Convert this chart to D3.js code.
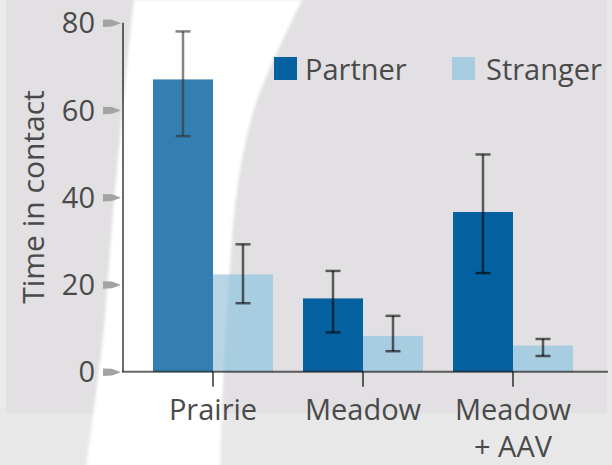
<!DOCTYPE html>
<html>
<head>
<meta charset="utf-8">
<script src="https://cdn.jsdelivr.net/npm/d3@7"></script>
<style>
  html, body { margin: 0; padding: 0; background: #e9e9e9; }
  svg { display: block; }
  text { font-family: "Open Sans", "Noto Sans", sans-serif; fill: #4a4a4a; }
</style>
</head>
<body>
<svg id="chart" width="612" height="465"></svg>
<script>
// Mean time in contact per group, with lower/upper error bar ends
const categories = ["Prairie", "Meadow", "Meadow + AAV"];
const seriesNames = ["Partner", "Stranger"];
const partnerValues = [67, 16.8, 36.6];
const partnerLow = [54, 9, 22.6];
const partnerHigh = [78, 23.1, 49.8];
const strangerValues = [22.3, 8.2, 6.0];
const strangerLow = [15.7, 4.7, 3.6];
const strangerHigh = [29.2, 12.8, 7.5];
const yTicks = [0, 20, 40, 60, 80];
const yTitle = "Time in contact";

const colors = { Partner: "#0561a0", Stranger: "#a8cce0" };
const fontSize = 29;

const rows = categories.map((c, i) => ({
  category: c,
  bars: [
    { series: "Partner", value: partnerValues[i], lo: partnerLow[i], hi: partnerHigh[i] },
    { series: "Stranger", value: strangerValues[i], lo: strangerLow[i], hi: strangerHigh[i] }
  ]
}));

const svg = d3.select("#chart");
const defs = svg.append("defs");
defs.append("filter").attr("id", "soft")
  .attr("x", "-10%").attr("y", "-10%").attr("width", "120%").attr("height", "120%")
  .append("feGaussianBlur").attr("stdDeviation", 1.6);

// Backdrop: grey panel with a white curved band
svg.append("rect").attr("x", 0).attr("y", 0).attr("width", 612).attr("height", 465).attr("fill", "#e8e8e8");
svg.append("rect").attr("x", 6).attr("y", 0).attr("width", 601).attr("height", 413).attr("fill", "#e2e0e2");
svg.append("rect").attr("x", 0).attr("y", 0).attr("width", 6).attr("height", 408).attr("fill", "#ebebeb");

const bandPath = "M134,0 L302,0 C283,38 268,70 256,102 C244,140 236,185 232,235 C228,300 222,380 220,470 L86,470 C92,420 100,370 105,320 C112,220 124,90 134,0 Z";
svg.append("path").attr("d", bandPath).attr("fill", "#ffffff").attr("filter", "url(#soft)");

const x = d3.scaleBand().domain(categories).range([123, 603]).paddingInner(0.2).paddingOuter(0.2);
const xs = d3.scaleBand().domain(seriesNames).range([0, x.bandwidth()]).padding(0);
const y = d3.scaleLinear().domain([0, 80]).range([371.7, 22.7]);

// Bars
const groups = svg.append("g").selectAll("g").data(rows).join("g")
  .attr("transform", d => `translate(${x(d.category)},0)`);
groups.selectAll("rect").data(d => d.bars).join("rect")
  .attr("x", d => xs(d.series))
  .attr("y", d => y(d.value))
  .attr("width", xs.bandwidth())
  .attr("height", d => y(0) - y(d.value))
  .attr("fill", d => colors[d.series]);

// The white band lightens whatever sits on it
svg.append("path").attr("d", bandPath).attr("fill", "#ffffff").attr("opacity", 0.19).attr("filter", "url(#soft)");

// Error bars
const cap = 7.5;
const eb = groups.selectAll("g.err").data(d => d.bars).join("g").attr("class", "err")
  .attr("transform", d => `translate(${xs(d.series) + xs.bandwidth() / 2},0)`)
  .attr("stroke", "#000").attr("stroke-opacity", 0.6).attr("stroke-width", 2.5).attr("fill", "none");
eb.append("line").attr("x1", 0).attr("x2", 0).attr("y1", d => y(d.lo)).attr("y2", d => y(d.hi));
eb.append("line").attr("x1", -cap).attr("x2", cap).attr("y1", d => y(d.hi)).attr("y2", d => y(d.hi));
eb.append("line").attr("x1", -cap).attr("x2", cap).attr("y1", d => y(d.lo)).attr("y2", d => y(d.lo));

// Y axis
const yAxis = d3.axisLeft(y).tickValues(yTicks).tickSize(0).tickPadding(28);
const ya = svg.append("g").attr("transform", "translate(123,0)").call(yAxis);
ya.select(".domain").remove();
ya.selectAll(".tick text").attr("font-size", fontSize).attr("dy", "0.35em").attr("fill", "#4a4a4a")
  .style("font-family", "'Open Sans', sans-serif");
ya.selectAll(".tick").append("path")
  .attr("d", "M-20,-3.8 L-11,-3.4 L-2,0 L-11,3.4 L-20,3.8 Z")
  .attr("fill", "#a3a3a3");
svg.append("line").attr("x1", 123).attr("x2", 123).attr("y1", y(80)).attr("y2", y(0))
  .attr("stroke", "#000").attr("stroke-opacity", 0.58).attr("stroke-width", 2);

// X axis
const xAxis = d3.axisBottom(x).tickSize(15).tickSizeOuter(0).tickFormat(() => "");
const xa = svg.append("g").attr("transform", `translate(0,${y(0)})`).call(xAxis);
xa.select(".domain").remove();
xa.selectAll(".tick line").attr("stroke", "#000").attr("stroke-opacity", 0.6).attr("stroke-width", 2);
svg.append("line").attr("x1", 122).attr("x2", 608).attr("y1", y(0)).attr("y2", y(0))
  .attr("stroke", "#000").attr("stroke-opacity", 0.6).attr("stroke-width", 2);
xa.selectAll(".tick").each(function (d) {
  const lines = d.split(" + ");
  const t = d3.select(this).append("text")
    .attr("text-anchor", "middle").attr("font-size", fontSize).attr("fill", "#4a4a4a")
    .style("font-family", "'Open Sans', sans-serif");
  lines.forEach((ln, i) => {
    t.append("tspan").attr("x", 0).attr("y", 48 + i * 37).text(i > 0 ? "+ " + ln : ln);
  });
});

// Y axis title
svg.append("text")
  .attr("transform", `translate(44,197) rotate(-90)`)
  .attr("text-anchor", "middle").attr("font-size", 30)
  .text(yTitle);

// Legend
const legendPos = [{ sx: 274, tx: 305 }, { sx: 452, tx: 486 }];
const lg = svg.append("g").selectAll("g").data(seriesNames).join("g");
lg.append("rect").attr("x", (d, i) => legendPos[i].sx).attr("y", 57).attr("width", 23).attr("height", 23)
  .attr("fill", d => colors[d]);
lg.append("text").attr("x", (d, i) => legendPos[i].tx).attr("y", 80).attr("font-size", fontSize).text(d => d);
</script>
</body>
</html>
